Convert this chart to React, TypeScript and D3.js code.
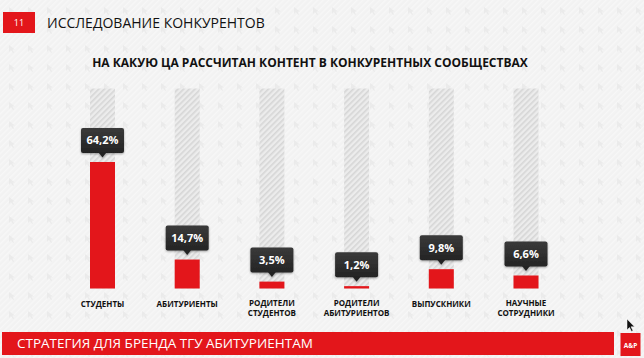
import React from "react";
import * as d3 from "d3";

const categories: string[][] = [
  ["СТУДЕНТЫ"],
  ["АБИТУРИЕНТЫ"],
  ["РОДИТЕЛИ", "СТУДЕНТОВ"],
  ["РОДИТЕЛИ", "АБИТУРИЕНТОВ"],
  ["ВЫПУСКНИКИ"],
  ["НАУЧНЫЕ", "СОТРУДНИКИ"],
];
const values: number[] = [64.2, 14.7, 3.5, 1.2, 9.8, 6.6];
const slideNumber = "11";
const headerTitle = "ИССЛЕДОВАНИЕ КОНКУРЕНТОВ";
const chartTitle = "НА КАКУЮ ЦА РАССЧИТАН КОНТЕНТ В КОНКУРЕНТНЫХ СООБЩЕСТВАХ";
const footerTitle = "СТРАТЕГИЯ ДЛЯ БРЕНДА ТГУ АБИТУРИЕНТАМ";
const logoText = "A&P";

const W = 644;
const H = 358;
const RED = "#e3161b";
const FONT = "'Open Sans', 'Noto Sans', sans-serif";

export default function App() {
  const keys = categories.map((c) => c.join(" "));
  const x = d3.scalePoint<string>().domain(keys).range([102.5, 526]);
  const y = d3.scaleLinear().domain([0, 101.5]).range([288.5, 88.5]);
  const barW = 25;
  const fmt = (v: number) => d3.format(".1f")(v).replace(".", ",") + "%";

  return (
    <svg
      width={W}
      height={H}
      style={{ position: "absolute", left: 0, top: 0, fontFamily: FONT }}
    >
      <defs>
        <pattern id="bgStripes" width="4" height="4" patternUnits="userSpaceOnUse" patternTransform="rotate(45)">
          <rect width="4" height="4" fill="#f2f2f2" />
          <rect width="1.5" height="4" fill="#f7f7f7" />
        </pattern>
        <pattern id="arrows" width="19" height="19" patternUnits="userSpaceOnUse" x="6" y="4">
          <path d="M3,3 L3,10 L5,8 L7,11 L8,10.5 L6.5,7.5 L9,7.5 Z" fill="#e4e4e4" opacity="0.6" />
        </pattern>
        <pattern id="hatch" width="4" height="4" patternUnits="userSpaceOnUse" patternTransform="rotate(45)">
          <rect width="4" height="4" fill="#ececec" />
          <rect width="1.6" height="4" fill="#d6d6d6" />
        </pattern>
        <linearGradient id="tipGrad" x1="0" y1="0" x2="0" y2="1">
          <stop offset="0" stopColor="#3a3a3a" />
          <stop offset="1" stopColor="#242424" />
        </linearGradient>
        <filter id="shadow" x="-20%" y="-20%" width="140%" height="160%">
          <feDropShadow dx="0" dy="1" stdDeviation="0.8" floodColor="#000" floodOpacity="0.35" />
        </filter>
      </defs>

      <rect width={W} height={H} fill="url(#bgStripes)" />
      <rect width={W} height={H} fill="url(#arrows)" />

      {/* Header */}
      <rect x={3} y={12} width={32} height={21} fill={RED} />
      <text x={19} y={26} fill="#fff" fontSize={9} textAnchor="middle">
        {slideNumber}
      </text>
      <text x={47} y={27.7} fill="#111" fontSize={14}>
        {headerTitle}
      </text>

      {/* Chart title */}
      <text x={310} y={67.3} fill="#111" fontSize={12} fontWeight={700} textAnchor="middle">
        {chartTitle}
      </text>

      {/* Columns */}
      {keys.map((k, i) => {
        const cx = x(k)!;
        const v = values[i];
        const top = y(v);
        const tipBottom = top - 9;
        const tipTop = tipBottom - 25;
        return (
          <g key={k}>
            <rect x={cx - barW / 2} y={y(101.5)} width={barW} height={y(0) - y(101.5)} fill="url(#hatch)" />
            <rect x={cx - barW / 2} y={top} width={barW} height={y(0) - top} fill={RED} />
            <g filter="url(#shadow)">
              <rect x={cx - 21.5} y={tipTop} width={43} height={25} rx={2} fill="url(#tipGrad)" />
              <path d={`M${cx - 4},${tipBottom - 0.5} L${cx + 4},${tipBottom - 0.5} L${cx},${tipBottom + 4.5} Z`} fill="#242424" />
            </g>
            <text x={cx} y={tipTop + 16.5} fill="#fff" fontSize={11} fontWeight={700} textAnchor="middle">
              {fmt(v)}
            </text>
            {categories[i].map((line, j) => (
              <text
                key={j}
                x={cx}
                y={(categories[i].length === 1 ? 307.3 : 306.3) + j * 9.5}
                fill="#111"
                fontSize={8}
                fontWeight={700}
                textAnchor="middle"
              >
                {line}
              </text>
            ))}
          </g>
        );
      })}

      {/* Footer */}
      <rect x={2} y={332} width={612} height={23} fill={RED} />
      <text x={17} y={347.7} fill="#fff" fontSize={13.5}>
        {footerTitle}
      </text>
      <rect x={620.5} y={333} width={20} height={23} fill={RED} />
      <text x={630.5} y={348} fill="#fff" fontSize={6.5} fontWeight={700} textAnchor="middle">
        {logoText}
      </text>

      {/* Cursor */}
      <path d="M627,319 L627,330 L629.5,327.5 L631.5,331.5 L633,330.8 L631,326.8 L634.5,326.8 Z" fill="#111" stroke="#fff" strokeWidth={0.5} />
    </svg>
  );
}
